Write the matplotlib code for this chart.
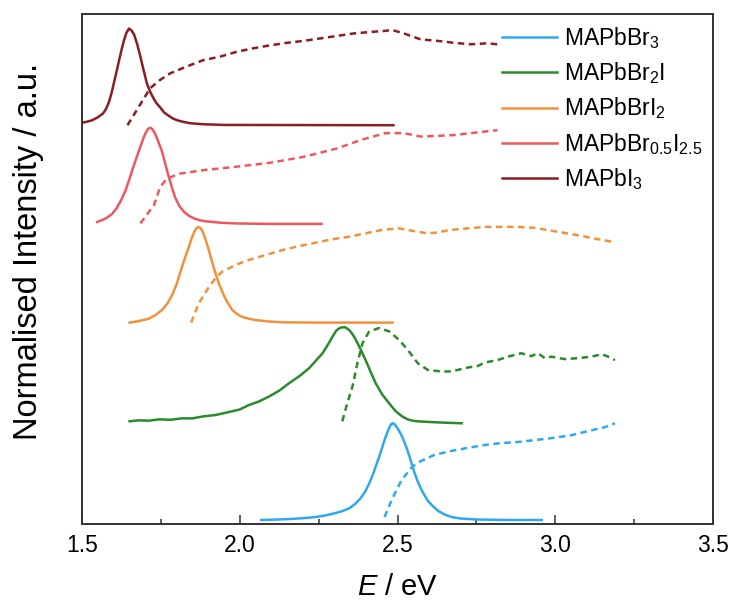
import matplotlib
matplotlib.use("Agg")
import matplotlib.pyplot as plt
from matplotlib.ticker import MultipleLocator, NullLocator, FormatStrFormatter

plt.rcParams["font.family"] = ["Liberation Sans", "DejaVu Sans"]
plt.rcParams["mathtext.fontset"] = "custom"
plt.rcParams["mathtext.rm"] = "Liberation Sans"
plt.rcParams["mathtext.it"] = "Liberation Sans:italic"
plt.rcParams["mathtext.default"] = "regular"

# ---- data: photon energy (eV) and normalised intensity ----
labels = ["MAPbBr$_3$", "MAPbBr$_2$I", "MAPbBrI$_2$",
          "MAPbBr$_{0.5}$I$_{2.5}$", "MAPbI$_3$"]
colors = ["#2ea9f0", "#2b8a2b", "#f0913e", "#f0575c", "#8b1d24"]
offsets = [0, 1, 2, 3, 4]

# photoluminescence
pl_br3_e = [2.068, 2.120, 2.160, 2.200, 2.240, 2.270, 2.303, 2.325, 2.348, 2.365,
            2.383, 2.398, 2.411, 2.422, 2.433, 2.443, 2.452, 2.460, 2.468, 2.476,
            2.480, 2.484, 2.488, 2.492, 2.500, 2.511, 2.522, 2.530, 2.538, 2.546,
            2.554, 2.563, 2.573, 2.584, 2.595, 2.612, 2.630, 2.650, 2.671, 2.700,
            2.754, 2.850, 2.957]
pl_br3_i = [0.0, 0.005, 0.01, 0.018, 0.03, 0.045, 0.07, 0.09, 0.12, 0.16,
            0.22, 0.29, 0.375, 0.46, 0.56, 0.65, 0.74, 0.82, 0.89, 0.95,
            0.97, 0.98, 0.978, 0.965, 0.93, 0.87, 0.79, 0.72, 0.645, 0.56,
            0.48, 0.40, 0.325, 0.26, 0.20, 0.14, 0.09, 0.055, 0.03, 0.015,
            0.005, 0.0, 0.0]

pl_br2i_e = [1.651, 1.680, 1.712, 1.745, 1.780, 1.817, 1.850, 1.885, 1.923, 1.960,
             2.000, 2.029, 2.060, 2.092, 2.125, 2.156, 2.190, 2.219, 2.240, 2.262,
             2.280, 2.294, 2.306, 2.318, 2.333, 2.347, 2.358, 2.368, 2.383, 2.399,
             2.415, 2.431, 2.452, 2.474, 2.495, 2.516, 2.532, 2.548, 2.563, 2.620,
             2.703]
pl_br2i_i = [0.0, 0.01, 0.006, 0.02, 0.015, 0.03, 0.03, 0.05, 0.064, 0.09,
             0.12, 0.165, 0.20, 0.25, 0.31, 0.385, 0.46, 0.536, 0.61, 0.688,
             0.78, 0.857, 0.92, 0.948, 0.955, 0.925, 0.88, 0.825, 0.73, 0.62,
             0.50, 0.385, 0.27, 0.18, 0.10, 0.047, 0.02, 0.006, 0.0, -0.01,
             -0.02]

pl_bri2_e = [1.651, 1.680, 1.712, 1.735, 1.754, 1.770, 1.786, 1.800, 1.817, 1.828,
             1.839, 1.847, 1.854, 1.861, 1.868, 1.875, 1.883, 1.892, 1.902, 1.912,
             1.923, 1.936, 1.949, 1.962, 1.976, 1.990, 2.006, 2.028, 2.050, 2.090,
             2.135, 2.250, 2.484]
pl_bri2_i = [0.0, 0.015, 0.04, 0.08, 0.13, 0.19, 0.28, 0.39, 0.565, 0.67,
             0.77, 0.85, 0.905, 0.95, 0.97, 0.96, 0.92, 0.84, 0.735, 0.62,
             0.50, 0.38, 0.28, 0.20, 0.13, 0.09, 0.06, 0.04, 0.026, 0.012,
             0.003, 0.0, 0.0]

pl_mix_e = [1.548, 1.565, 1.580, 1.595, 1.610, 1.624, 1.638, 1.650, 1.663, 1.676,
            1.687, 1.696, 1.703, 1.710, 1.716, 1.723, 1.731, 1.740, 1.753, 1.763,
            1.773, 1.784, 1.795, 1.809, 1.824, 1.840, 1.856, 1.875, 1.897, 1.940,
            1.986, 2.100, 2.259]
pl_mix_i = [0.02, 0.04, 0.065, 0.10, 0.16, 0.24, 0.34, 0.45, 0.58, 0.70,
            0.80, 0.88, 0.93, 0.965, 0.975, 0.96, 0.92, 0.85, 0.74, 0.62,
            0.50, 0.38, 0.27, 0.18, 0.12, 0.08, 0.055, 0.035, 0.025, 0.012,
            0.005, 0.0, 0.0]

pl_i3_e = [1.500, 1.515, 1.532, 1.550, 1.567, 1.577, 1.586, 1.594, 1.602, 1.610,
           1.617, 1.625, 1.633, 1.640, 1.649, 1.657, 1.665, 1.675, 1.684, 1.695,
           1.706, 1.716, 1.727, 1.737, 1.748, 1.760, 1.773, 1.787, 1.802, 1.820,
           1.843, 1.884, 1.950, 2.487]
pl_i3_i = [0.025, 0.035, 0.05, 0.08, 0.12, 0.17, 0.24, 0.33, 0.44, 0.55,
           0.65, 0.76, 0.86, 0.93, 0.98, 0.96, 0.92, 0.82, 0.71, 0.56,
           0.42, 0.34, 0.27, 0.22, 0.18, 0.13, 0.10, 0.07, 0.05, 0.035,
           0.02, 0.01, 0.003, 0.0]

# absorption
abs_br3_e = [2.459, 2.481, 2.513, 2.544, 2.563, 2.617, 2.671, 2.722, 2.776, 2.830,
             2.881, 2.935, 2.989, 3.052, 3.116, 3.157, 3.189]
abs_br3_i = [0.03, 0.20, 0.405, 0.53, 0.58, 0.66, 0.70, 0.73, 0.76, 0.78,
             0.79, 0.81, 0.83, 0.86, 0.91, 0.94, 0.98]

abs_br2i_e = [2.325, 2.341, 2.357, 2.373, 2.389, 2.410, 2.442, 2.474, 2.505, 2.532,
              2.564, 2.596, 2.639, 2.670, 2.723, 2.754, 2.776, 2.817, 2.850, 2.892,
              2.924, 2.945, 2.967, 2.988, 3.030, 3.072, 3.115, 3.147, 3.168, 3.189]
abs_br2i_i = [0.0, 0.185, 0.35, 0.59, 0.79, 0.91, 0.945, 0.91, 0.825, 0.725,
              0.59, 0.52, 0.505, 0.505, 0.545, 0.56, 0.595, 0.62, 0.655, 0.69,
              0.66, 0.69, 0.64, 0.655, 0.63, 0.64, 0.655, 0.68, 0.655, 0.62]

abs_bri2_e = [1.846, 1.870, 1.902, 1.923, 1.944, 1.987, 2.029, 2.082, 2.135, 2.188,
              2.241, 2.294, 2.347, 2.399, 2.452, 2.505, 2.564, 2.596, 2.617, 2.670,
              2.723, 2.776, 2.829, 2.882, 2.935, 3.009, 3.072, 3.136, 3.189]
abs_bri2_i = [0.0, 0.195, 0.36, 0.45, 0.515, 0.585, 0.635, 0.685, 0.735, 0.775,
              0.81, 0.845, 0.87, 0.905, 0.94, 0.955, 0.92, 0.905, 0.91, 0.94,
              0.955, 0.97, 0.97, 0.97, 0.96, 0.92, 0.885, 0.845, 0.815]

abs_mix_e = [1.685, 1.728, 1.748, 1.769, 1.811, 1.885, 1.991, 2.097, 2.203, 2.309,
             2.383, 2.462, 2.520, 2.573, 2.679, 2.732, 2.817]
abs_mix_i = [0.005, 0.19, 0.375, 0.46, 0.51, 0.545, 0.58, 0.62, 0.68, 0.765,
             0.85, 0.92, 0.92, 0.885, 0.90, 0.92, 0.95]

abs_i3_e = [1.644, 1.674, 1.716, 1.748, 1.779, 1.832, 1.885, 1.938, 1.991, 2.044,
            2.097, 2.150, 2.203, 2.256, 2.309, 2.361, 2.414, 2.457, 2.483, 2.520,
            2.573, 2.626, 2.679, 2.732, 2.785, 2.817]
abs_i3_i = [0.0, 0.155, 0.375, 0.46, 0.525, 0.595, 0.66, 0.695, 0.745, 0.78,
            0.81, 0.835, 0.855, 0.88, 0.905, 0.93, 0.945, 0.955, 0.965, 0.93,
            0.87, 0.855, 0.835, 0.82, 0.83, 0.82]

pl_sets = [(pl_br3_e, pl_br3_i), (pl_br2i_e, pl_br2i_i), (pl_bri2_e, pl_bri2_i),
           (pl_mix_e, pl_mix_i), (pl_i3_e, pl_i3_i)]
abs_sets = [(abs_br3_e, abs_br3_i), (abs_br2i_e, abs_br2i_i), (abs_bri2_e, abs_bri2_i),
            (abs_mix_e, abs_mix_i), (abs_i3_e, abs_i3_i)]

# ---- figure ----
fig = plt.figure(figsize=(7.32, 6.08), dpi=100)
ax = fig.add_axes([82 / 732, 1 - 524 / 608, (713 - 82) / 732, (524 - 14) / 608])

lw = 1.8
for (pe, pi), (ae, ai), c, off, lab in zip(pl_sets, abs_sets, colors, offsets, labels):
    ax.plot(pe, [v + off for v in pi], color=c, lw=lw, label=lab,
            solid_joinstyle="round")
    ax.plot(ae, [v + off for v in ai], color=c, lw=lw, linestyle=(0, (2.6, 1.8)))

ax.set_xlim(1.5, 3.5)
ax.set_ylim(-0.0405, 5.127)
ax.xaxis.set_major_locator(MultipleLocator(0.5))
ax.xaxis.set_minor_locator(MultipleLocator(0.25))
ax.xaxis.set_major_formatter(FormatStrFormatter("%.1f"))
ax.yaxis.set_major_locator(NullLocator())
ax.tick_params(axis="x", which="major", direction="in", length=6.5, width=1.1,
               labelsize=16.5, pad=7.5, color="#333333")
ax.tick_params(axis="x", which="minor", direction="in", length=3.6, width=1.1,
               color="#333333")
for s in ax.spines.values():
    s.set_linewidth(1.4)
    s.set_color("#333333")

ax.set_xlabel(r"$\mathit{E}$ / eV", fontsize=21)
ax.set_ylabel("Normalised Intensity / a.u.", fontsize=23.5)
ax.xaxis.set_label_coords(0.5, -0.096)
ax.yaxis.set_label_coords(-0.060, 0.535)

handles, labs = ax.get_legend_handles_labels()
leg = ax.legend(handles, labs, loc="upper left", bbox_to_anchor=(0.64, 1.01),
                frameon=False, fontsize=16.5, handlelength=2.4,
                handletextpad=0.3, labelspacing=0.41, borderaxespad=0.3)

fig.savefig("out.png", dpi=100)
